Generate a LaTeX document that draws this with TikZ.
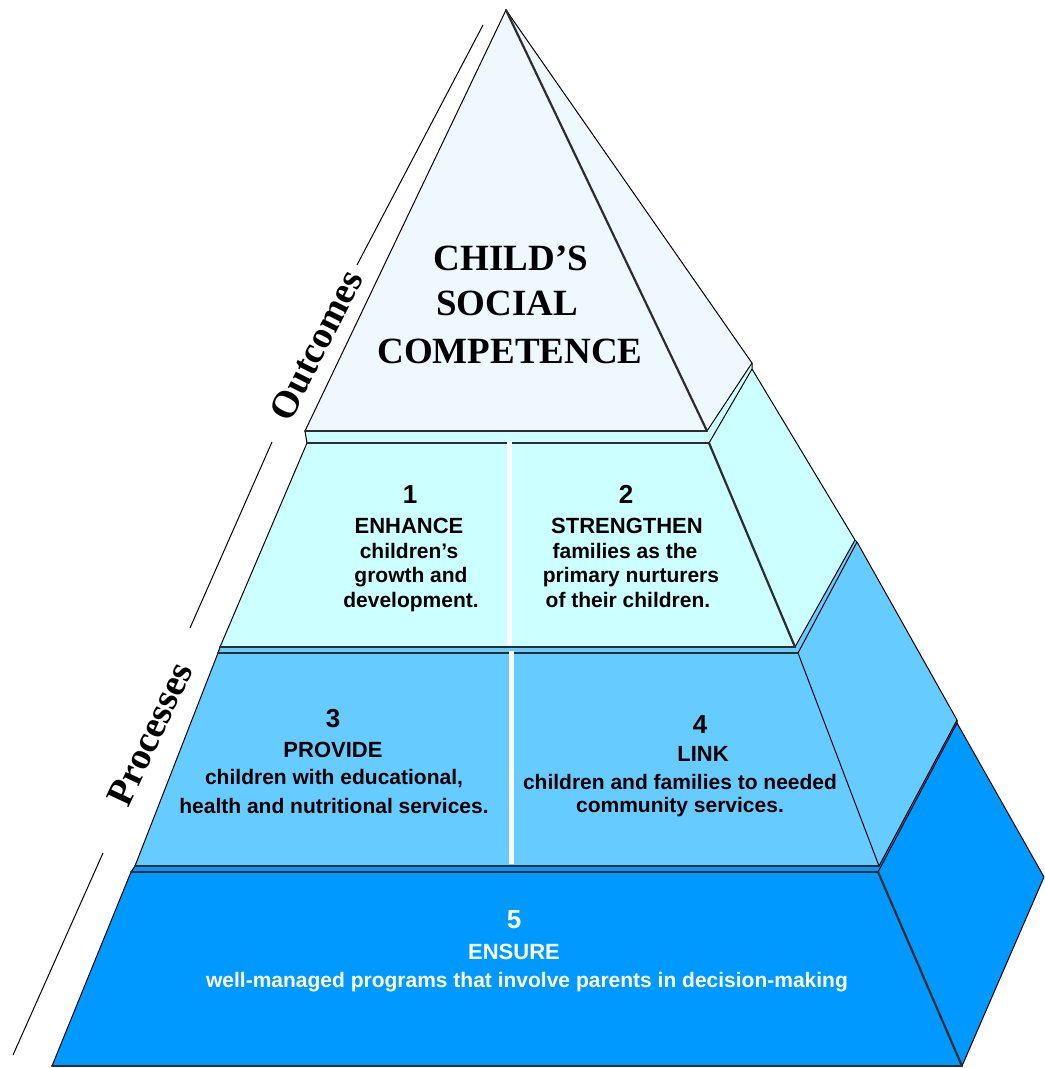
\documentclass[tikz,border=0pt]{standalone}
\usepackage{fontspec}
\setmainfont{Liberation Serif}
\setsansfont{Liberation Sans}
\definecolor{ctop}{RGB}{240,248,255}
\definecolor{cone}{HTML}{CCFFFF}
\definecolor{ctwo}{HTML}{66CCFF}
\definecolor{cthree}{HTML}{0099FF}
\definecolor{edge}{RGB}{45,45,45}
\begin{document}
\begin{tikzpicture}[x=1pt,y=-1pt,
  thin edge/.style={draw=black,line width=1pt,line join=round},
  thick edge/.style={draw=edge,line width=2.2pt,line cap=round},
  divider/.style={draw=white,line width=5pt},
  guide/.style={draw=black,line width=1pt},
  headline/.style={font=\fontsize{37}{40}\selectfont\rmfamily\bfseries,anchor=base},
  sidelabel/.style={font=\fontsize{38}{40}\selectfont\rmfamily\bfseries,anchor=center},
  numtxt/.style={font=\fontsize{26}{30}\selectfont\sffamily\bfseries,anchor=base},
  captxt/.style={font=\fontsize{22}{26}\selectfont\sffamily\bfseries,anchor=base},
  bodytxt/.style={font=\fontsize{21}{24}\selectfont\sffamily\bfseries,anchor=base}]
\useasboundingbox (0,0) rectangle (1044,1068);
\fill[white] (0,0) rectangle (1044,1068);
% corner points
\coordinate (A) at (506,10);
\coordinate (TL) at (305,431);
\coordinate (TR) at (707,431);
\coordinate (TO) at (752,363);
\coordinate (atl) at (307,443);
\coordinate (atr) at (709,443);
\coordinate (ato) at (752,369);
\coordinate (abl) at (220,647);
\coordinate (abr) at (795,647);
\coordinate (abo) at (855,540);
\coordinate (btl) at (218,653);
\coordinate (btr) at (798,653);
\coordinate (bto) at (857,542);
\coordinate (bbl) at (135,866);
\coordinate (bbr) at (879,866);
\coordinate (bbo) at (957,720);
\coordinate (ctl) at (131,872);
\coordinate (ctr) at (878,872);
\coordinate (cto) at (957,723);
\coordinate (cbl) at (52,1066);
\coordinate (cbr) at (962,1066);
\coordinate (cbo) at (1044,877);
% tier fills
\fill[cthree] (bbl) -- (bbr) -- (bbo) -- (cto) -- (cbo) -- (cbr) -- (cbl) -- (ctl) -- cycle;
\fill[ctwo] (abl) -- (abr) -- (abo) -- (bto) -- (bbo) -- (bbr) -- (bbl) -- (btl) -- cycle;
\fill[cone] (TL) -- (TR) -- (TO) -- (ato) -- (abo) -- (abr) -- (abl) -- (atl) -- cycle;
\fill[ctop] (A) -- (TL) -- (TR) -- (TO) -- cycle;
% thin edges
\path[thin edge] (A) -- (TL);
\path[thin edge] (A) -- (TO) -- (TR);
\path[thin edge] (TO) -- (ato) -- (abo) -- (abr);
\path[thin edge] (atr) -- (ato);
\path[thin edge] (TL) -- (atl) -- (abl) -- (btl) -- (bbl) -- (ctl) -- (cbl);
\path[thin edge] (abo) -- (bto) -- (bbo) -- (bbr);
\path[thin edge] (btr) -- (bto);
\path[thin edge] (btr) -- (bbr);
\path[thin edge] (bbo) -- (cto) -- (cbo) -- (cbr);
\path[thin edge] (ctr) -- (cto);
% thick edges
\path[thick edge] (A) -- (TR);
\path[thick edge] (atr) -- (abr);
\path[thick edge] (ctr) -- (cbr);
\path[thick edge] (TL) -- (TR);
\path[thick edge] (atl) -- (atr);
\path[thick edge] (abl) -- (abr);
\path[thick edge] (btl) -- (btr);
\path[thick edge] (bbl) -- (bbr);
\path[thick edge] (ctl) -- (ctr);
\path[thick edge] (cbl) -- (cbr);
% dividers
\path[divider] (509,441) -- (509,645);
\path[divider] (511,651) -- (511,864);
% guide lines on the left
\path[guide] (483,25) -- (357,265);
\path[guide] (272,442) -- (190,628);
\path[guide] (103,853) -- (13,1055);
% side labels
\node[sidelabel,rotate=63] (outc) at (316,345) {Outcomes};
\node[sidelabel,rotate=65] (proc) at (150,734) {Processes};
% apex text
\node[headline] (h1) at (511,270) {CHILD’S};
\node[headline] (h2) at (507,315) {SOCIAL};
\node[headline] (h3) at (510,363) {COMPETENCE};
% tier 1 left
\node[numtxt] (n1) at (410,503) {1};
\node[captxt] (c1) at (409,533) {ENHANCE};
\node[bodytxt] (b1a) at (409,558) {children’s};
\node[bodytxt] (b1b) at (411,582) {growth and};
\node[bodytxt] (b1c) at (411,607) {development.};
% tier 1 right
\node[numtxt] (n2) at (626,503) {2};
\node[captxt] (c2) at (627,533) {STRENGTHEN};
\node[bodytxt] (b2a) at (625,558) {families as the};
\node[bodytxt] (b2b) at (631,582) {primary nurturers};
\node[bodytxt] (b2c) at (628,607) {of their children.};
% tier 2 left
\node[numtxt] (n3) at (333,727) {3};
\node[captxt] (c3) at (333,757) {PROVIDE};
\node[bodytxt] (b3a) at (334,784) {children with educational,};
\node[bodytxt] (b3b) at (334,813) {health and nutritional services.};
% tier 2 right
\node[numtxt] (n4) at (700,733) {4};
\node[captxt] (c4) at (703,761) {LINK};
\node[bodytxt] (b4a) at (680,789) {children and families to needed};
\node[bodytxt] (b4b) at (680,812) {community services.};
% tier 3
\node[numtxt,text=white] (n5) at (514,928) {5};
\node[captxt,text=white] (c5) at (514,959) {ENSURE};
\node[bodytxt,text=white] (b5) at (527,987) {well-managed programs that involve parents in decision-making};
\end{tikzpicture}
\end{document}
